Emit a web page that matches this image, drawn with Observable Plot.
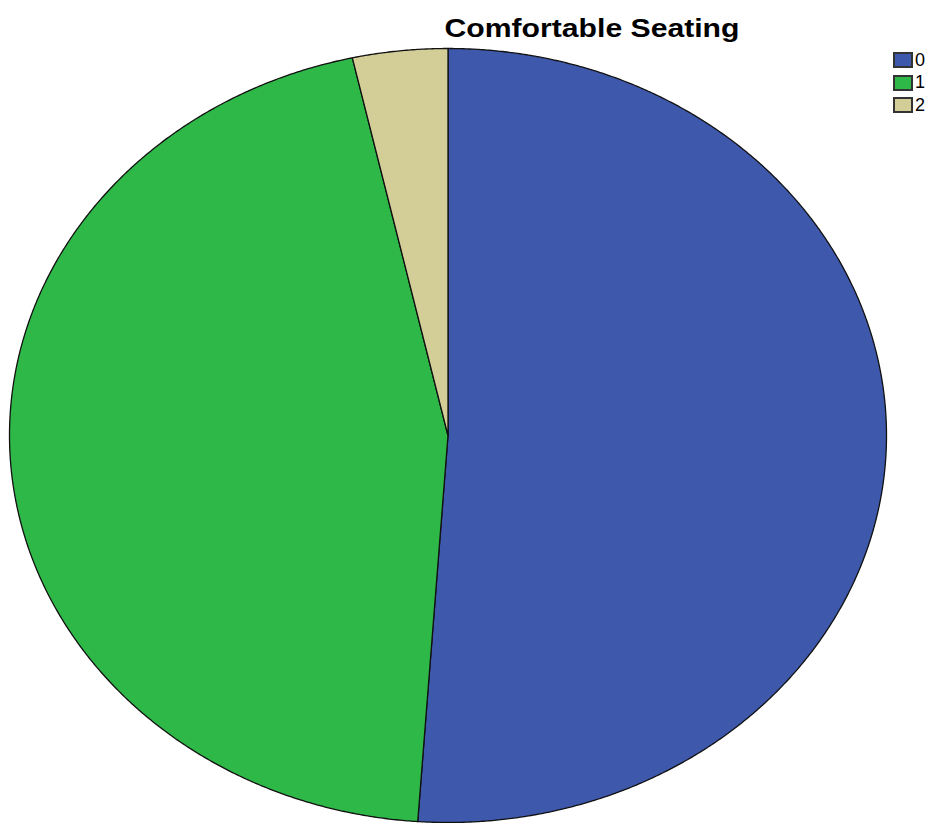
<!DOCTYPE html>
<html>
<head>
<meta charset="utf-8">
<script src="https://cdn.jsdelivr.net/npm/d3@7"></script>
<script src="https://cdn.jsdelivr.net/npm/@observablehq/plot@0.6"></script>
<style>
  html, body { margin: 0; padding: 0; background: #fff; }
  #wrap { position: relative; width: 929px; height: 823px; overflow: hidden; font-family: "Liberation Sans", Arial, sans-serif; }
  #title { position: absolute; left: 592px; top: 13px; transform: translateX(-50%) scaleX(1.16); white-space: nowrap; font-weight: bold; font-size: 26px; color: #000; }
  #legend { position: absolute; left: 893px; top: 49px; }
  .row { display: flex; align-items: center; height: 22.5px; font-size: 18px; }
  .sw { width: 20px; height: 16px; border: 2px solid #333; box-sizing: border-box; margin-right: 2px; }
</style>
</head>
<body>
<div id="wrap">
  <div id="chart"></div>
  <div id="title">Comfortable Seating</div>
  <div id="legend"></div>
</div>
<script>
const categories = ["0", "1", "2"];
const values = [51.1, 45.4, 3.5];
const colors = ["#3e58ac", "#2eb848", "#d3ce97"];
const title = "Comfortable Seating";

const arcs = d3.pie().sort(null).value(d => d.value)(categories.map((c, i) => ({cat: c, value: values[i]})));
const pts = [];
for (const a of arcs) {
  pts.push({cat: a.data.cat, x: 0, y: 0});
  const n = Math.max(4, Math.ceil((a.endAngle - a.startAngle) / 0.005));
  for (let k = 0; k <= n; k++) {
    const t = a.startAngle + (a.endAngle - a.startAngle) * k / n;
    pts.push({cat: a.data.cat, x: Math.sin(t), y: Math.cos(t)});
  }
  pts.push({cat: a.data.cat, x: 0, y: 0});
}

const chart = Plot.plot({
  width: 929,
  height: 823,
  marginLeft: 9,
  marginRight: 43,
  marginTop: 48,
  marginBottom: 1,
  x: {domain: [-1, 1], axis: null},
  y: {domain: [-1, 1], axis: null},
  color: {domain: categories, range: colors},
  marks: [
    Plot.line(pts, {x: "x", y: "y", z: "cat", fill: "cat", stroke: "#111", strokeWidth: 1.3, curve: "linear-closed"})
  ]
});
document.getElementById("chart").appendChild(chart);

const lg = document.getElementById("legend");
categories.forEach((c, i) => {
  const r = document.createElement("div");
  r.className = "row";
  r.innerHTML = `<div class="sw" style="background:${colors[i]}"></div><span>${c}</span>`;
  lg.appendChild(r);
});
</script>
</body>
</html>
